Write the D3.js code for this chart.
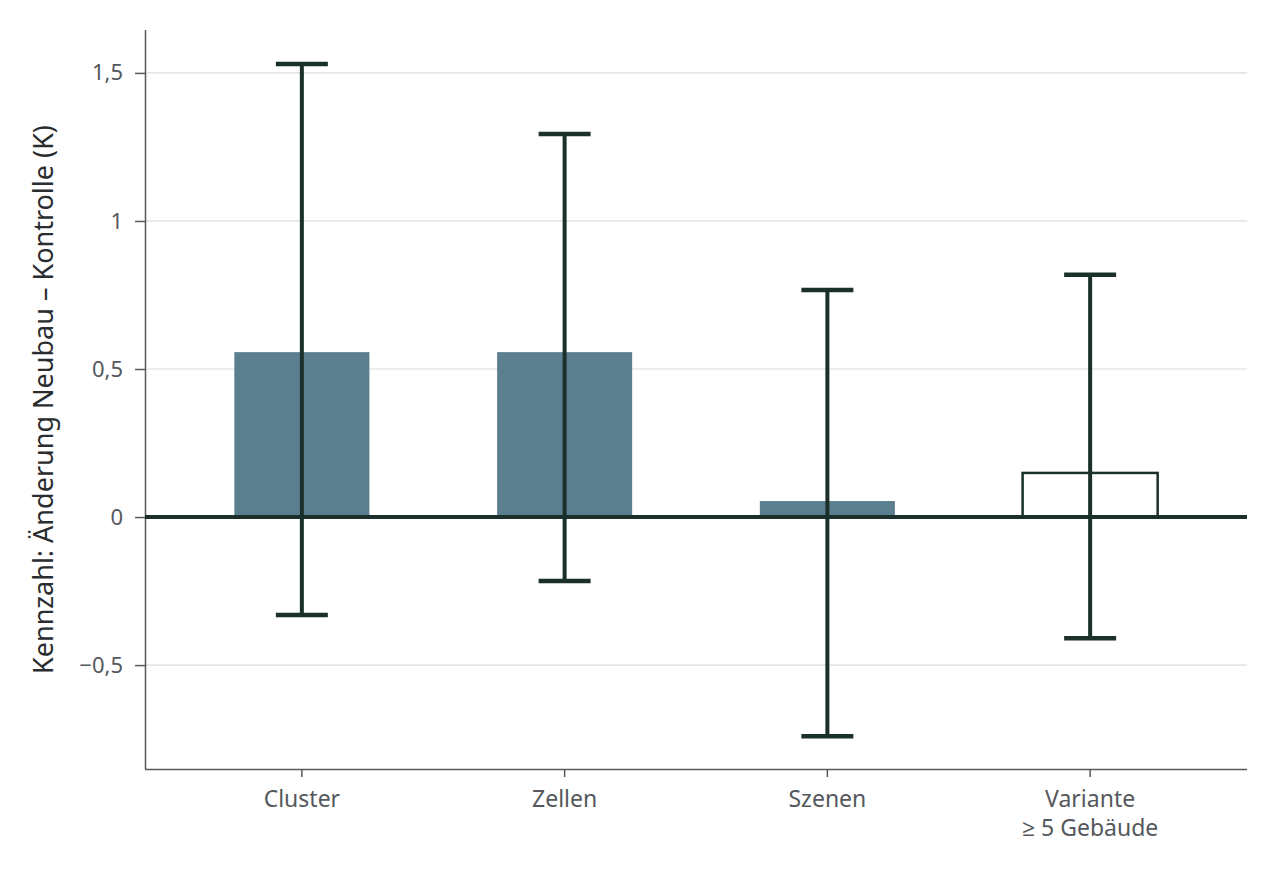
<!DOCTYPE html>
<html><head><meta charset="utf-8">
<script src="https://cdn.jsdelivr.net/npm/d3@7"></script>
<style>body{margin:0;background:#fff}svg{display:block}</style>
</head><body>
<script>
const categories = ["Cluster", "Zellen", "Szenen", "Variante\n≥ 5 Gebäude"];
const values = [0.557, 0.557, 0.054, 0.149];
const lower = [-0.331, -0.216, -0.74, -0.409];
const upper = [1.53, 1.294, 0.767, 0.818];
const outlined = [false, false, false, true];
const yTicks = [-0.5, 0, 0.5, 1, 1.5];
const yTitle = "Kennzahl: Änderung Neubau – Kontrolle (K)";

const W = 1276, H = 875;
const m = {left:145, right:29, top:30, bottom:106};
const svg = d3.select("body").append("svg").attr("width", W).attr("height", H);
const font = "'Noto Sans', 'Open Sans', sans-serif";
const dark = "#1b302b", barCol = "#5b7f8e", axisCol = "#55585c", textCol = "#55585c";

const x = d3.scaleBand().domain(categories).range([m.left, W-m.right]).paddingInner(0.486).paddingOuter(0.34);
const y = d3.scaleLinear().domain([-0.851, 1.645]).range([H-m.bottom, m.top]);

// grid
svg.append("g").selectAll("line").data(yTicks).join("line")
  .attr("x1", m.left).attr("x2", W-m.right)
  .attr("y1", d=>y(d)).attr("y2", d=>y(d))
  .attr("stroke", "#dcdcd8").attr("stroke-width", 1.2);

// y axis
const yAxis = d3.axisLeft(y).tickValues(yTicks).tickSize(10).tickPadding(12)
  .tickFormat(d => d3.format(",")(d).replace("-", "−").replace(".", ","));
const ga = svg.append("g").attr("transform", `translate(${m.left},0)`).call(yAxis);
ga.attr("font-size", null).attr("font-family", null);
ga.select(".domain").attr("d", `M0.5,${m.top}V${H-m.bottom}`).attr("stroke", axisCol).attr("stroke-width", 1.5);
ga.selectAll(".tick line").attr("stroke", axisCol).attr("stroke-width", 1.5);
ga.selectAll(".tick text").attr("fill", textCol).style("font-family", font).style("font-size", "22px");

// x axis
const xAxis = d3.axisBottom(x).tickSize(8).tickPadding(10).tickFormat("");
const gx = svg.append("g").attr("transform", `translate(0,${H-m.bottom})`).call(xAxis);
gx.attr("font-size", null).attr("font-family", null);
gx.select(".domain").attr("d", `M${m.left},0.5H${W-m.right}`).attr("stroke", axisCol).attr("stroke-width", 1.5);
gx.selectAll(".tick line").attr("stroke", axisCol).attr("stroke-width", 1.5);
gx.selectAll(".tick").each(function(d){
  const lines = d.split("\n");
  const t = d3.select(this).append("text").attr("fill", textCol).attr("text-anchor","middle")
    .style("font-family", font).style("font-size", "23px");
  lines.forEach((l,i)=> t.append("tspan").attr("x",0).attr("y", 38 + i*29).text(l));
});

// bars
const bw = x.bandwidth();
svg.append("g").selectAll("rect").data(categories).join("rect")
  .attr("x", d=>x(d)).attr("width", bw)
  .attr("y", (d,i)=>y(Math.max(0,values[i]))).attr("height", (d,i)=>Math.abs(y(values[i])-y(0)))
  .attr("fill", (d,i)=> outlined[i] ? "#fff" : barCol)
  .attr("stroke", (d,i)=> outlined[i] ? dark : "none")
  .attr("stroke-width", 2.5);

// zero line
svg.append("line").attr("x1", m.left).attr("x2", W-m.right).attr("y1", y(0)).attr("y2", y(0))
  .attr("stroke", dark).attr("stroke-width", 4);

// error bars
const eg = svg.append("g").selectAll("g").data(categories).join("g")
  .attr("transform", d=>`translate(${x(d)+bw/2},0)`);
eg.append("line").attr("y1",(d,i)=>y(lower[i])).attr("y2",(d,i)=>y(upper[i]))
  .attr("stroke", dark).attr("stroke-width", 4);
eg.append("line").attr("x1",-26).attr("x2",26).attr("y1",(d,i)=>y(upper[i])).attr("y2",(d,i)=>y(upper[i]))
  .attr("stroke", dark).attr("stroke-width", 4.5);
eg.append("line").attr("x1",-26).attr("x2",26).attr("y1",(d,i)=>y(lower[i])).attr("y2",(d,i)=>y(lower[i]))
  .attr("stroke", dark).attr("stroke-width", 4.5);

// y title
svg.append("text").attr("transform", `translate(53,${(m.top+H-m.bottom)/2}) rotate(-90)`)
  .attr("text-anchor","middle").attr("fill", "#2a2d30")
  .style("font-family", font).style("font-size", "27px").text(yTitle);
</script>
</body></html>
